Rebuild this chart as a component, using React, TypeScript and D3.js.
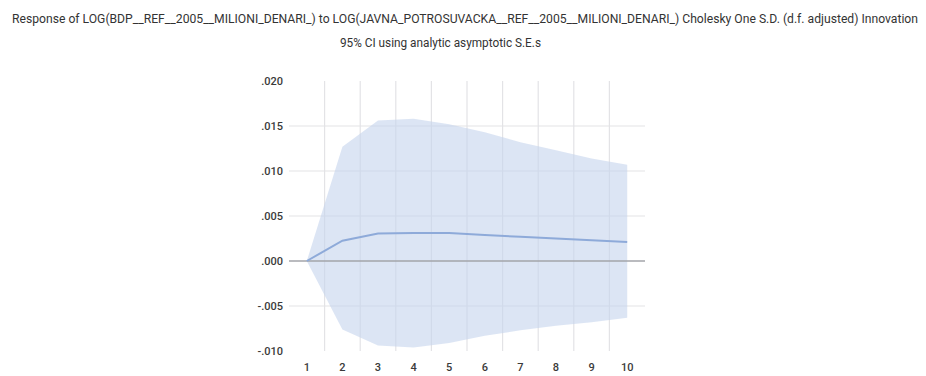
import React, { useEffect, useRef } from "react";
import * as d3 from "d3";

const periods = [1, 2, 3, 4, 5, 6, 7, 8, 9, 10];
const response = [0.0, 0.00226, 0.00305, 0.0031, 0.0031, 0.00288, 0.0027, 0.0025, 0.0023, 0.0021];
const upper = [0.0, 0.0127, 0.0156, 0.0158, 0.0152, 0.0143, 0.0132, 0.0123, 0.0114, 0.0107];
const lower = [0.0, -0.0076, -0.0094, -0.0096, -0.0091, -0.0083, -0.0077, -0.0072, -0.0068, -0.0063];
const yTicks = [-0.01, -0.005, 0, 0.005, 0.01, 0.015, 0.02];

const titleLine1 =
  "Response of LOG(BDP__REF__2005__MILIONI_DENARI_) to LOG(JAVNA_POTROSUVACKA__REF__2005__MILIONI_DENARI_) Cholesky One S.D. (d.f. adjusted) Innovation";
const titleLine2 = "95% CI using analytic asymptotic S.E.s";

const App = () => {
  const chartRef = useRef<SVGSVGElement>(null);

  useEffect(() => {
    const width = 926;
    const height = 376;
    const svg = d3.select(chartRef.current);
    svg.selectAll("*").remove();

    const font = "'Liberation Sans Narrow', 'Arial Narrow', Roboto, sans-serif";

    const x = d3
      .scaleBand<number>()
      .domain(periods)
      .range([289, 645]);
    const cx = (d: number) => (x(d) as number) + x.bandwidth() / 2;

    const y = d3.scaleLinear().domain([-0.01, 0.02]).range([351, 81]);

    svg.append("rect").attr("width", width).attr("height", height).attr("fill", "#fff");

    // title, squeezed to the reference's width
    svg
      .append("text")
      .attr("x", 12)
      .attr("y", 23)
      .attr("textLength", 906)
      .attr("lengthAdjust", "spacingAndGlyphs")
      .attr("font-family", font)
      .attr("font-size", 12)
      .attr("fill", "#333")
      .text(titleLine1);
    svg
      .append("text")
      .attr("x", 340)
      .attr("y", 47)
      .attr("textLength", 201)
      .attr("lengthAdjust", "spacingAndGlyphs")
      .attr("font-family", font)
      .attr("font-size", 12.5)
      .attr("fill", "#333")
      .text(titleLine2);

    // horizontal grid
    svg
      .selectAll("line.hgrid")
      .data(yTicks.filter((t) => t !== 0 && t !== 0.02 && t !== -0.01))
      .enter()
      .append("line")
      .attr("x1", 289)
      .attr("x2", 645)
      .attr("y1", (d) => y(d))
      .attr("y2", (d) => y(d))
      .attr("stroke", "#e3e3e6")
      .attr("stroke-width", 1.2);

    // vertical grid at category boundaries
    svg
      .selectAll("line.vgrid")
      .data(periods.slice(1))
      .enter()
      .append("line")
      .attr("x1", (d) => x(d) as number)
      .attr("x2", (d) => x(d) as number)
      .attr("y1", 81)
      .attr("y2", 351)
      .attr("stroke", "#e3e3e6")
      .attr("stroke-width", 1.2);

    // confidence band
    const area = d3
      .area<number>()
      .x((d) => cx(d))
      .y0((d, i) => y(lower[i]))
      .y1((d, i) => y(upper[i]));
    svg
      .append("path")
      .datum(periods)
      .attr("fill", "#c5d3ec")
      .attr("fill-opacity", 0.6)
      .attr("d", area);

    // zero line
    svg
      .append("line")
      .attr("x1", 289)
      .attr("x2", 645)
      .attr("y1", y(0))
      .attr("y2", y(0))
      .attr("stroke", "#a3a5aa")
      .attr("stroke-width", 1.5);

    // response line
    const line = d3
      .line<number>()
      .x((d) => cx(d))
      .y((d, i) => y(response[i]));
    svg
      .append("path")
      .datum(periods)
      .attr("fill", "none")
      .attr("stroke", "#8eaad9")
      .attr("stroke-width", 2)
      .attr("d", line);

    // y axis labels
    svg
      .selectAll("text.ytick")
      .data(yTicks)
      .enter()
      .append("text")
      .attr("x", 283)
      .attr("y", (d) => y(d) + 4)
      .attr("text-anchor", "end")
      .attr("font-family", font)
      .attr("font-size", 11)
      .attr("font-weight", 500)
      .attr("fill", "#3a3a3a")
      .text((d) => (d < 0 ? "-" : "") + d3.format(".3f")(Math.abs(d)).replace(/^0/, ""));

    // x axis labels
    svg
      .selectAll("text.xtick")
      .data(periods)
      .enter()
      .append("text")
      .attr("x", (d) => cx(d))
      .attr("y", 371)
      .attr("text-anchor", "middle")
      .attr("font-family", font)
      .attr("font-size", 11)
      .attr("font-weight", 500)
      .attr("fill", "#3a3a3a")
      .text((d) => d);
  }, []);

  return (
    <svg
      ref={chartRef}
      width={926}
      height={376}
      style={{ position: "absolute", left: 0, top: 0 }}
    />
  );
};

export default App;
